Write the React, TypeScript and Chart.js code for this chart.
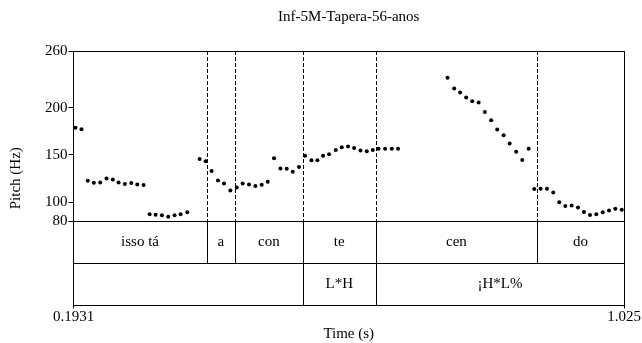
import React, { useEffect, useRef } from "react";
import { Chart, registerables } from "chart.js";

Chart.register(...registerables);

// ---------- data ----------
const TITLE = "Inf-5M-Tapera-56-anos";
const X_LABEL = "Time (s)";
const Y_LABEL = "Pitch (Hz)";

const T_MIN = 0.1931;
const T_MAX = 1.025;
const X_TICKS = [0.1931, 1.025];
const X_TICK_LABELS = ["0.1931", "1.025"];

const Y_MIN = 80;
const Y_MAX = 260;
const Y_TICKS = [80, 100, 150, 200, 260];

const TIMES = [
  0.1961, 0.2052,
  0.2147, 0.2238, 0.2335, 0.243, 0.2525, 0.2612, 0.2707, 0.2804, 0.2895, 0.299,
  0.3081, 0.3171, 0.3267, 0.3363, 0.3459, 0.355, 0.3651,
  0.3837, 0.3928, 0.4018, 0.4114, 0.4205, 0.4301, 0.4397, 0.4487, 0.4583, 0.4679, 0.4775, 0.4866,
  0.4961, 0.5058, 0.5153, 0.5244, 0.5339, 0.543, 0.5527, 0.5617, 0.5702, 0.5793, 0.5894, 0.5985,
  0.608, 0.6171, 0.6268, 0.6363, 0.6454, 0.654, 0.664, 0.6741, 0.6836,
  0.7584, 0.7684, 0.7774, 0.7865, 0.7956, 0.8053, 0.8148, 0.8243, 0.8334, 0.8431, 0.8522, 0.8621,
  0.8712, 0.8809,
  0.8894, 0.899, 0.9086, 0.9181, 0.9272, 0.9363, 0.9459, 0.9555, 0.9645, 0.9736, 0.9832, 0.9928,
  1.0024, 1.0119, 1.0216,
];

const PITCH_HZ = [
  178.7, 177.2,
  122.6, 120.5, 120.8, 125.1, 124.0, 120.8, 119.1, 120.2, 118.7, 118.0,
  87.1, 86.7, 86.1, 84.6, 86.1, 87.1, 89.3,
  145.7, 143.2, 132.9, 122.9, 119.7, 112.3, 115.5, 119.7, 118.7, 117.0, 118.3, 121.5,
  146.4, 135.7, 135.4, 132.2, 137.2, 149.2, 144.2, 144.2, 149.2, 150.6, 155.3, 158.1,
  158.8, 157.4, 154.6, 153.8, 155.3, 156.4, 156.4, 156.4, 156.4,
  231.6, 220.3, 216.0, 210.7, 206.7, 205.4, 195.3, 186.8, 176.9, 170.9, 162.0, 153.2,
  144.6, 156.4,
  113.8, 114.1, 114.1, 110.1, 99.9, 96.0, 96.3, 94.2, 89.6, 86.4, 87.1, 89.3,
  91.0, 93.1, 92.0,
];

// syllable tier (interval boundaries in seconds, and labels)
const SYLLABLE_BOUNDS = [0.1931, 0.3943, 0.4374, 0.5395, 0.6499, 0.8935, 1.025];
const SYLLABLES = ["isso tá", "a", "con", "te", "cen", "do"];

// tone tier
const TONE_BOUNDS = [0.1931, 0.5395, 0.6499, 1.025];
const TONES = ["", "L*H", "¡H*L%"];

// ---------- styling ----------
const FONT = "Liberation Serif";
const INK = "#000";

const tierPlugin = {
  id: "tiers",
  afterDraw(chart: any) {
    const { ctx, chartArea } = chart;
    const xs = chart.scales.x;
    const ys = chart.scales.y;
    const ts = chart.scales.tier;
    const px = (v: number) => Math.round(xs.getPixelForValue(v)) + 0.5;
    ctx.save();
    ctx.strokeStyle = INK;
    ctx.lineWidth = 1;

    const inner = SYLLABLE_BOUNDS.slice(1, -1);
    // dashed guides across the pitch panel
    ctx.setLineDash([4, 2]);
    for (const b of inner) {
      ctx.beginPath();
      ctx.moveTo(px(b), ys.getPixelForValue(Y_MAX));
      ctx.lineTo(px(b), ys.getPixelForValue(Y_MIN));
      ctx.stroke();
    }
    ctx.setLineDash([]);
    // syllable tier boundaries
    for (const b of inner) {
      ctx.beginPath();
      ctx.moveTo(px(b), ts.getPixelForValue(2));
      ctx.lineTo(px(b), ts.getPixelForValue(1));
      ctx.stroke();
    }
    // tone tier boundaries
    for (const b of TONE_BOUNDS.slice(1, -1)) {
      ctx.beginPath();
      ctx.moveTo(px(b), ts.getPixelForValue(1));
      ctx.lineTo(px(b), ts.getPixelForValue(0));
      ctx.stroke();
    }

    ctx.fillStyle = INK;
    ctx.font = `15px "${FONT}"`;
    ctx.textAlign = "center";
    ctx.textBaseline = "middle";
    SYLLABLES.forEach((s, i) => {
      const cx = (xs.getPixelForValue(SYLLABLE_BOUNDS[i]) + xs.getPixelForValue(SYLLABLE_BOUNDS[i + 1])) / 2;
      ctx.fillText(s, cx, ts.getPixelForValue(1.5));
    });
    TONES.forEach((s, i) => {
      if (!s) return;
      const cx = (xs.getPixelForValue(TONE_BOUNDS[i]) + xs.getPixelForValue(TONE_BOUNDS[i + 1])) / 2;
      ctx.fillText(s, cx, ts.getPixelForValue(0.5));
    });

    // y-axis title, centred on the whole stacked axis
    const tx = ys.left + 9;
    const ty = (chartArea.top + chartArea.bottom) / 2;
    ctx.translate(tx, ty);
    ctx.rotate(-Math.PI / 2);
    ctx.fillText(Y_LABEL, 0, 0);
    ctx.restore();
  },
};

export default function App() {
  const ref = useRef<HTMLCanvasElement | null>(null);

  useEffect(() => {
    if (!ref.current) return;
    const points = TIMES.map((t, i) => ({ x: t, y: PITCH_HZ[i] }));
    const tickFont = { family: FONT, size: 15 };

    const chart = new Chart(ref.current, {
      type: "scatter",
      data: {
        datasets: [
          {
            label: "Pitch",
            data: points,
            xAxisID: "x",
            yAxisID: "y",
            pointRadius: 2,
            pointStyle: "circle",
            backgroundColor: INK,
            borderColor: INK,
            borderWidth: 0,
          },
        ],
      },
      options: {
        responsive: false,
        animation: false,
        events: [],
        devicePixelRatio: 1,
        layout: { padding: { left: 7, right: 18, top: 0, bottom: 1.5 } },
        plugins: {
          legend: { display: false },
          tooltip: { enabled: false },
          title: {
            display: true,
            fullSize: false,
            text: TITLE,
            color: INK,
            font: { family: FONT, size: 15, weight: "normal", lineHeight: 1.2 },
            padding: { top: 8, bottom: 25 },
          },
        },
        scales: {
          x: {
            type: "linear",
            position: "bottom",
            min: T_MIN,
            max: T_MAX,
            afterBuildTicks: (s: any) => {
              s.ticks = X_TICKS.map((v) => ({ value: v }));
            },
            ticks: {
              color: INK,
              font: tickFont,
              padding: 0,
              maxRotation: 0,
              autoSkip: false,
              callback: (_v: any, i: number) => X_TICK_LABELS[i],
            },
            grid: {
              display: true,
              drawOnChartArea: true,
              color: (c: any) => (c.tick && c.tick.value === T_MAX ? INK : "rgba(0,0,0,0)"),
              tickColor: INK,
              tickLength: 3,
            },
            border: { display: true, color: INK, width: 1 },
            title: {
              display: true,
              text: X_LABEL,
              color: INK,
              font: { family: FONT, size: 15, lineHeight: 1.0 },
              padding: { top: 0, bottom: 0 },
            },
          },
          tier: {
            type: "linear",
            axis: "y",
            position: "left",
            stack: "panel",
            stackWeight: 84,
            weight: 0,
            min: 0,
            max: 2,
            afterBuildTicks: (s: any) => {
              s.ticks = [0, 1, 2].map((v) => ({ value: v }));
            },
            ticks: { display: false },
            grid: {
              display: true,
              drawOnChartArea: true,
              drawTicks: false,
              color: INK,
            },
            border: { display: true, color: INK, width: 1 },
          },
          y: {
            type: "linear",
            position: "left",
            stack: "panel",
            stackWeight: 169,
            weight: 1,
            min: Y_MIN,
            max: Y_MAX,
            afterBuildTicks: (s: any) => {
              s.ticks = Y_TICKS.map((v) => ({ value: v }));
            },
            ticks: {
              color: INK,
              font: tickFont,
              padding: 1,
              autoSkip: false,
            },
            grid: {
              display: true,
              drawOnChartArea: true,
              color: (c: any) => (c.tick && c.tick.value === Y_MAX ? INK : "rgba(0,0,0,0)"),
              tickColor: INK,
              tickLength: 5,
            },
            border: { display: true, color: INK, width: 1 },
            title: {
              display: true,
              text: Y_LABEL,
              color: "rgba(0,0,0,0)",
              font: { family: FONT, size: 15, lineHeight: 1.2 },
              padding: { top: 0, bottom: 19 },
            },
          },
        },
      } as any,
      plugins: [tierPlugin],
    });
    return () => chart.destroy();
  }, []);

  return (
    <div style={{ position: "absolute", left: 0, top: 0, width: 642, height: 343, background: "#fff" }}>
      <canvas ref={ref} width={642} height={343} style={{ display: "block" }} />
    </div>
  );
}
